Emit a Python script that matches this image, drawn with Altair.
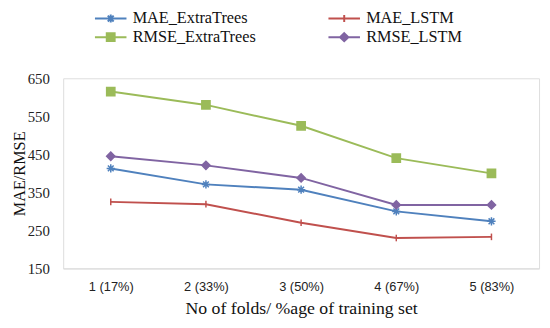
import altair as alt
import pandas as pd

folds = ["1 (17%)", "2 (33%)", "3 (50%)", "4 (67%)", "5 (83%)"]
series_names = ["MAE_ExtraTrees", "MAE_LSTM", "RMSE_ExtraTrees", "RMSE_LSTM"]
mae_extratrees = [413, 371, 357, 300, 274]
mae_lstm = [325, 319, 270, 230, 233]
rmse_extratrees = [615, 580, 525, 440, 400]
rmse_lstm = [445, 421, 388, 317, 317]
y_ticks = [150, 250, 350, 450, 550, 650]

colors = ["#4F81BD", "#C0504D", "#9BBB59", "#8064A2"]
marker_paths = [
    "M-1,0L1,0M0,-1L0,1M-0.7,-0.7L0.7,0.7M-0.7,0.7L0.7,-0.7",
    "M0,-0.8L0,0.8",
    "M-1,-1L1,-1L1,1L-1,1Z",
    "M0,-1L1,0L0,1L-1,0Z",
]
# legend symbols: a line segment with the marker in its middle (size 100 -> unit = 5px)
legend_paths = [
    "M-3.2,0L3.2,0M-0.8,0L0.8,0M0,-0.8L0,0.8M-0.6,-0.6L0.6,0.6M-0.6,0.6L0.6,-0.6",
    "M-3.2,0L3.2,0M0,-0.7L0,0.7",
    "M-3.2,0L3.2,0M-0.8,-0.8L0.8,-0.8L0.8,0.8L-0.8,0.8Z",
    "M-3.2,0L3.2,0M0,-0.8L0.85,0L0,0.8L-0.85,0Z",
]

rows = []
for name, vals in zip(series_names, [mae_extratrees, mae_lstm, rmse_extratrees, rmse_lstm]):
    for f, v in zip(folds, vals):
        rows.append({"fold": f, "series": name, "value": v})
df = pd.DataFrame(rows)

SERIF = "Liberation Serif, Times New Roman, serif"

x = alt.X("fold:N", sort=folds, scale=alt.Scale(type="point", padding=0.5),
          axis=alt.Axis(title="No of folds/ %age of training set", labelAngle=0,
                        labelFont="Liberation Sans", labelFontSize=13, labelColor="#222",
                        labelPadding=12, ticks=False, domainColor="#d9d9d9",
                        titleFont=SERIF, titleFontSize=18, titleFontWeight="normal",
                        titleColor="#111", titlePadding=7))
y = alt.Y("value:Q", scale=alt.Scale(domain=[150, 650], nice=False, zero=False),
          axis=alt.Axis(title="MAE/RMSE", values=y_ticks, grid=False, domain=False, ticks=False,
                        labelFont=SERIF, labelFontSize=15, labelColor="#222", labelPadding=14,
                        titleFont=SERIF, titleFontSize=16.5, titleFontWeight="normal",
                        titleColor="#111", titlePadding=0))

cscale = alt.Scale(domain=series_names, range=colors)

lines = alt.Chart(df).mark_line(strokeWidth=2).encode(
    x=x, y=y, color=alt.Color("series:N", scale=cscale, legend=None)
)

markers = alt.Chart(df).mark_point(filled=True, size=70, opacity=1, strokeWidth=1.5).encode(
    x=x, y=y,
    color=alt.Color("series:N", scale=cscale, legend=None),
    stroke=alt.Stroke("series:N", scale=cscale, legend=None),
    shape=alt.Shape("series:N", scale=alt.Scale(domain=series_names, range=marker_paths), legend=None),
)

leg = dict(title=None, orient="none", legendX=40, legendY=-69, direction="horizontal",
           columns=2, columnPadding=69, rowPadding=2, symbolSize=100, symbolStrokeWidth=2,
           symbolOpacity=1, labelFont=SERIF, labelFontSize=16.5, labelColor="#111",
           labelOffset=14)

legend_layer = alt.Chart(df).mark_point(size=0, filled=False).encode(
    x=x, y=y,
    fill=alt.Fill("series:N", scale=cscale, legend=alt.Legend(**leg)),
    stroke=alt.Stroke("series:N", scale=cscale, legend=alt.Legend(**leg)),
    shape=alt.Shape("series:N", scale=alt.Scale(domain=series_names, range=legend_paths),
                    legend=alt.Legend(**leg)),
)

chart = alt.layer(lines, markers, legend_layer).resolve_scale(
    color="independent", fill="independent", stroke="independent", shape="independent"
).properties(
    width=483, height=193,
    autosize=alt.AutoSizeParams(type="none"),
    padding={"left": 56, "top": 69, "right": 3, "bottom": 50},
).configure_view(stroke=None).configure(background="white")

chart.save("out.html", embed_options={"renderer": "svg", "actions": False})
